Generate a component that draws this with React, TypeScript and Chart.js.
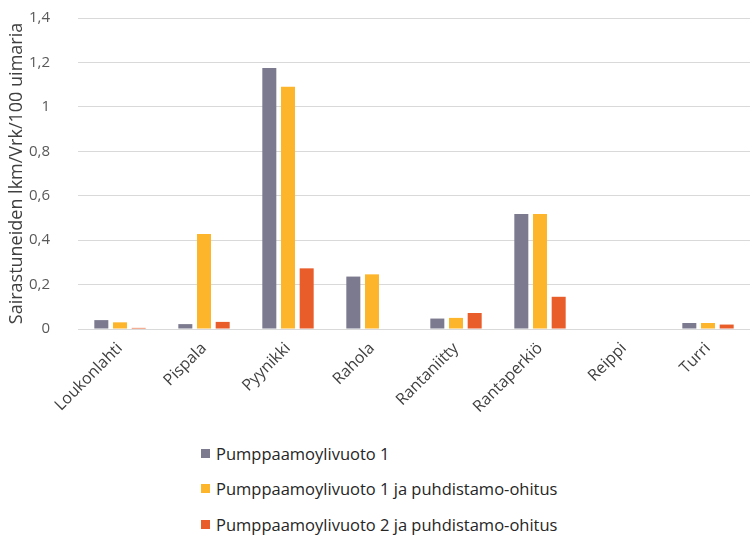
import React, { useEffect, useRef } from "react";
import { Chart, registerables } from "chart.js";

Chart.register(...registerables);

const categories = ["Loukonlahti", "Pispala", "Pyynikki", "Rahola", "Rantaniitty", "Rantaperkiö", "Reippi", "Turri"];
const seriesNames = [
  "Pumppaamoylivuoto 1",
  "Pumppaamoylivuoto 1 ja puhdistamo-ohitus",
  "Pumppaamoylivuoto 2 ja puhdistamo-ohitus",
];
const series1 = [0.04, 0.022, 1.175, 0.236, 0.047, 0.518, 0, 0.027];
const series2 = [0.03, 0.428, 1.09, 0.246, 0.05, 0.518, 0, 0.027];
const series3 = [0.005, 0.032, 0.273, 0, 0.072, 0.145, 0, 0.02];
const colors = ["#7b7a8e", "#fdb52b", "#e85d2a"];
const yTicks = [0, 0.2, 0.4, 0.6, 0.8, 1, 1.2, 1.4];
const yTitle = "Sairastuneiden lkm/Vrk/100 uimaria";

const FONT = "'Open Sans', sans-serif";

export default function App() {
  const ref = useRef<HTMLCanvasElement>(null);
  useEffect(() => {
    document.body.style.margin = "0";
    const values = [series1, series2, series3];
    const chart = new Chart(ref.current!, {
      type: "bar",
      data: {
        labels: categories,
        datasets: seriesNames.map((name, i) => ({
          label: name,
          data: values[i],
          backgroundColor: colors[i],
          categoryPercentage: 0.667,
          barPercentage: 0.75,
        })),
      },
      options: {
        animation: false,
        responsive: false,
        layout: { padding: { top: 18, right: 5, left: 0, bottom: 0 } },
        plugins: { legend: { display: false }, tooltip: { enabled: false } },
        scales: {
          x: {
            grid: { display: false },
            border: { display: false },
            afterFit: (s: any) => {
              s.paddingLeft = 0;
              s.paddingRight = 0;
              s.height = 96;
            },
            ticks: {
              minRotation: 45,
              maxRotation: 45,
              color: "#404040",
              font: { family: FONT, size: 16 },
              padding: 2,
            },
          },
          y: {
            min: 0,
            max: 1.4,
            afterBuildTicks: (axis: any) => {
              axis.ticks = yTicks.map((v) => ({ value: v }));
            },
            afterFit: (s: any) => {
              s.width = 78;
              s.paddingTop = 0;
              s.paddingBottom = 0;
            },
            grid: { color: "#d9d9d9", drawTicks: false, lineWidth: 1 },
            border: { display: false },
            ticks: {
              color: "#595959",
              font: { family: FONT, size: 15 },
              padding: 28,
              callback: (v: any) => String(v).replace(".", ","),
            },
            title: {
              display: true,
              text: yTitle,
              color: "#404040",
              font: { family: FONT, size: 18 },
              padding: { top: 6, bottom: 4 },
            },
          },
        },
      },
    });
    return () => chart.destroy();
  }, []);

  return (
    <div style={{ position: "relative", width: 755, height: 536, background: "#fff" }}>
      <canvas ref={ref} width={755} height={425} style={{ display: "block" }} />
      {seriesNames.map((name, i) => (
        <div
          key={name}
          style={{
            position: "absolute",
            left: 201,
            top: 441 + i * 35.5,
            height: 24,
            display: "flex",
            alignItems: "center",
            fontFamily: FONT,
            fontSize: 16.5,
            color: "#262626",
            whiteSpace: "nowrap",
          }}
        >
          <span style={{ display: "inline-block", width: 9, height: 9, background: colors[i], marginRight: 6 }} />
          {name}
        </div>
      ))}
    </div>
  );
}
